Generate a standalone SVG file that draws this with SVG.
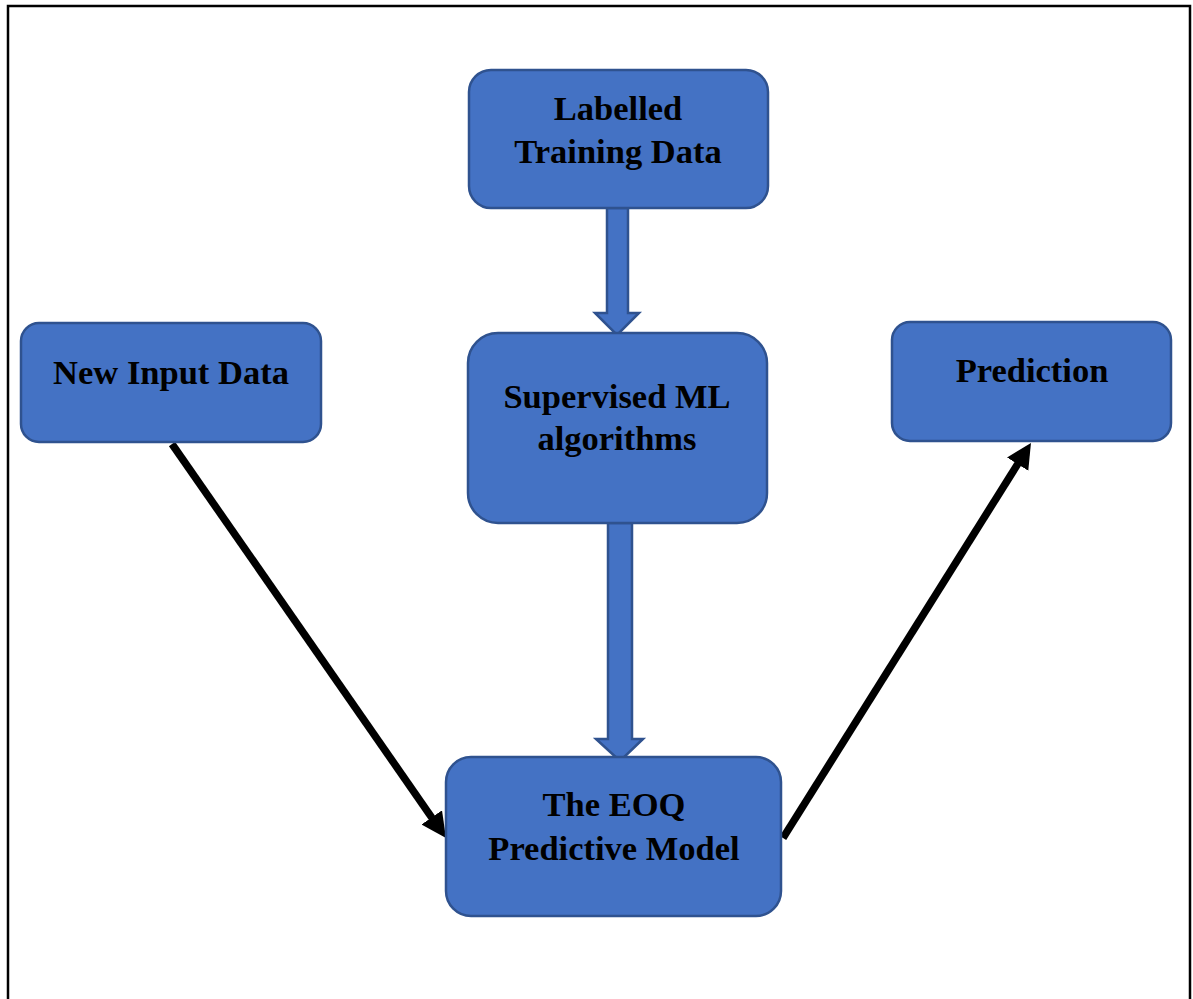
<svg xmlns="http://www.w3.org/2000/svg" width="1193" height="999" viewBox="0 0 1193 999">
  <style>
    .box { fill: #4472C4; stroke: #2F528F; stroke-width: 2.5; }
    .blk { fill: #4472C4; stroke: #2F528F; stroke-width: 2.5; stroke-linejoin: miter; }
    .lbl { font-family: "Liberation Serif", "Times New Roman", serif; font-weight: bold; font-size: 34.5px; fill: #000; text-anchor: middle; }
    .ln { stroke: #000; stroke-width: 7.5; fill: none; }
  </style>
  <defs>
    <marker id="head" markerUnits="userSpaceOnUse" markerWidth="28" markerHeight="28" refX="1" refY="12.5" orient="auto">
      <path d="M0,0 L25,12.5 L0,25 z" fill="#000"/>
    </marker>
  </defs>

  <rect width="1193" height="999" fill="#fff"/>
  <!-- page frame (open at the bottom) -->
  <path d="M8,1000 L8,6 L1190,6 L1190,1000" fill="none" stroke="#000" stroke-width="2.5"/>

  <g id="connectors">
    <!-- block arrows -->
    <path class="blk" d="M607,208 L628,208 L628,313 L639,313 L617,335 L595,313 L607,313 Z"/>
    <path class="blk" d="M608,523 L632,523 L632,739 L643,739 L620,761 L596,739 L608,739 Z"/>
    <!-- line arrows -->
    <line class="ln" x1="172" y1="444" x2="432.3" y2="818.3" marker-end="url(#head)"/>
    <line class="ln" x1="783" y1="838" x2="1018.2" y2="463.3" marker-end="url(#head)"/>
  </g>

  <g id="labelled-training-data">
    <rect class="box" x="469" y="70" width="299" height="138" rx="22"/>
    <text class="lbl" x="618" y="120">Labelled</text>
    <text class="lbl" x="618" y="163">Training Data</text>
  </g>

  <g id="supervised-ml">
    <rect class="box" x="468" y="333" width="299" height="190" rx="30"/>
    <text class="lbl" x="617" y="408">Supervised ML</text>
    <text class="lbl" x="617" y="450">algorithms</text>
  </g>

  <g id="new-input-data">
    <rect class="box" x="21" y="323" width="300" height="119" rx="18"/>
    <text class="lbl" x="171" y="384">New Input Data</text>
  </g>

  <g id="prediction">
    <rect class="box" x="892" y="322" width="279" height="119" rx="18"/>
    <text class="lbl" x="1032" y="382">Prediction</text>
  </g>

  <g id="eoq-model">
    <rect class="box" x="446" y="757" width="335" height="159" rx="25"/>
    <text class="lbl" x="614" y="816">The EOQ</text>
    <text class="lbl" x="614" y="860">Predictive Model</text>
  </g>
</svg>
